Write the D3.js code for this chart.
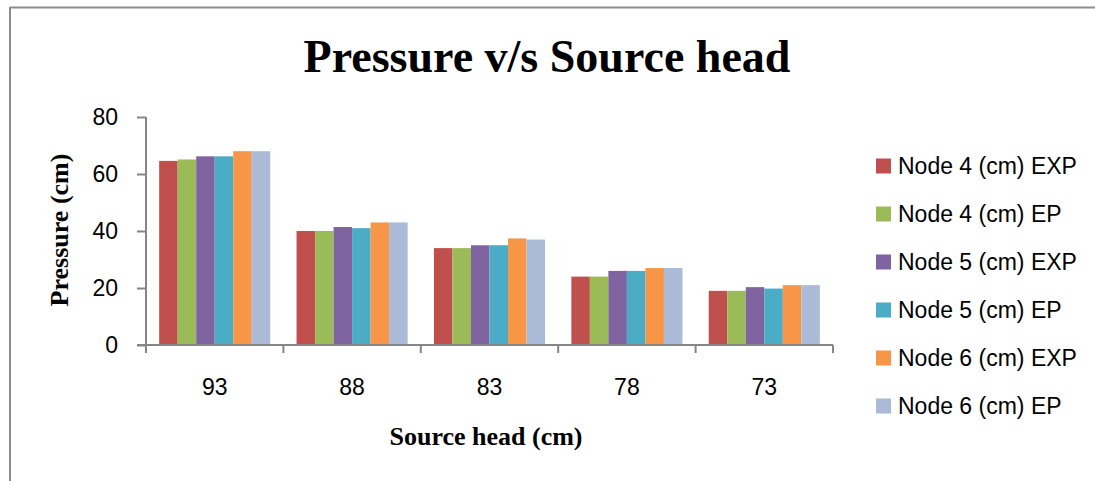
<!DOCTYPE html>
<html>
<head>
<meta charset="utf-8">
<script src="https://cdn.jsdelivr.net/npm/d3@7"></script>
<style>
  body { margin: 0; background: #fff; }
  svg { display: block; }
</style>
</head>
<body>
<div id="chart"></div>
<script>
// Chart data
var categories = ["93", "88", "83", "78", "73"];
var seriesNames = ["Node 4 (cm) EXP", "Node 4 (cm) EP", "Node 5 (cm) EXP",
  "Node 5 (cm) EP", "Node 6 (cm) EXP", "Node 6 (cm) EP"];
var node4Exp = [64.6, 40, 34, 24, 19];
var node4Ep = [65.1, 40, 34, 24, 19];
var node5Exp = [66.2, 41.4, 35, 26, 20.3];
var node5Ep = [66.2, 41, 35, 26, 19.8];
var node6Exp = [68, 43, 37.4, 27, 21];
var node6Ep = [68, 43, 37, 27, 21];
var yTicks = [0, 20, 40, 60, 80];

var seriesValues = [node4Exp, node4Ep, node5Exp, node5Ep, node6Exp, node6Ep];
var colors = ["#C0504D", "#9BBB59", "#8064A2", "#4BACC6", "#F79646", "#AABAD7"];

var svgWidth = 1095;
var svgHeight = 481;
var margin = {top: 117, left: 146, bottom: 136, right: 262};
var axisColor = "#868686";
var sansFont = "'Liberation Sans', Arial, sans-serif";
var serifFont = "'Liberation Serif', 'Times New Roman', serif";

var svg = d3.select("#chart")
  .append("svg")
  .attr("width", svgWidth)
  .attr("height", svgHeight);

// Outer frame (only top and left edges visible in the crop)
svg.append("line")
  .attr("x1", 10).attr("y1", 7.5).attr("x2", svgWidth).attr("y2", 7.5)
  .attr("stroke", "#8c8c8c").attr("stroke-width", 2);
svg.append("line")
  .attr("x1", 10).attr("y1", 7).attr("x2", 10).attr("y2", svgHeight)
  .attr("stroke", "#8c8c8c").attr("stroke-width", 2);

// Scales
var x0 = d3.scaleBand()
  .domain(categories)
  .range([margin.left, svgWidth - margin.right])
  .padding(0);

var x1 = d3.scaleBand()
  .domain(seriesNames)
  .range([0, x0.bandwidth()])
  .paddingInner(0)
  .paddingOuter(0.71);

var y = d3.scaleLinear()
  .domain([0, 80])
  .range([svgHeight - margin.bottom, margin.top]);

// Title
svg.append("text")
  .attr("x", 547)
  .attr("y", 72)
  .attr("text-anchor", "middle")
  .style("font-family", serifFont)
  .style("font-weight", "bold")
  .style("font-size", "46px")
  .text("Pressure v/s Source head");

// Bars
var groups = svg.selectAll(".group")
  .data(categories)
  .enter()
  .append("g")
  .attr("class", "group")
  .attr("transform", d => `translate(${x0(d)}, 0)`);

groups.selectAll("rect")
  .data((d, i) => seriesNames.map((s, j) => ({series: s, value: seriesValues[j][i], color: colors[j]})))
  .enter()
  .append("rect")
  .attr("x", d => x1(d.series))
  .attr("y", d => y(d.value))
  .attr("width", x1.bandwidth())
  .attr("height", d => y(0) - y(d.value))
  .attr("fill", d => d.color);

// Y axis
var leftAxis = d3.axisLeft(y)
  .tickValues(yTicks)
  .tickSize(9)
  .tickPadding(19);

var yAxis = svg.append("g")
  .attr("transform", `translate(${margin.left}, 0)`)
  .call(leftAxis);

// X axis: ticks at category boundaries
var bottomAxis = d3.axisBottom(x0)
  .tickSize(0)
  .tickPadding(34);

var xAxis = svg.append("g")
  .attr("transform", `translate(0, ${y(0)})`)
  .call(bottomAxis);

var boundaries = categories.map(c => x0(c)).concat([x0(categories[categories.length - 1]) + x0.bandwidth()]);
xAxis.selectAll(".boundary")
  .data(boundaries)
  .enter()
  .append("line")
  .attr("class", "boundary")
  .attr("x1", d => d).attr("x2", d => d)
  .attr("y1", 0).attr("y2", 8);

[xAxis, yAxis].forEach(function(ax) {
  ax.select(".domain").attr("stroke", axisColor).attr("stroke-width", 2);
  ax.selectAll("line").attr("stroke", axisColor).attr("stroke-width", 2);
  ax.selectAll("text")
    .attr("fill", "#000")
    .style("font-family", sansFont)
    .style("font-size", "23px");
});
yAxis.select(".domain").attr("d", `M0,${y(80)}V${y(0)}`);
xAxis.select(".domain").attr("d", `M${margin.left - 9},0H${svgWidth - margin.right}`);

// Axis titles
svg.append("text")
  .attr("x", 486)
  .attr("y", 445)
  .attr("text-anchor", "middle")
  .style("font-family", serifFont)
  .style("font-weight", "bold")
  .style("font-size", "26px")
  .text("Source head (cm)");

svg.append("text")
  .attr("transform", "translate(68, 230) rotate(-90)")
  .attr("text-anchor", "middle")
  .style("font-family", serifFont)
  .style("font-weight", "bold")
  .style("font-size", "26px")
  .text("Pressure (cm)");

// Legend
var legend = svg.selectAll(".legend")
  .data(seriesNames)
  .enter()
  .append("g")
  .attr("class", "legend")
  .attr("transform", (d, i) => `translate(876, ${166 + i * 48})`);

legend.append("rect")
  .attr("x", 0)
  .attr("y", -7.5)
  .attr("width", 15)
  .attr("height", 15)
  .attr("fill", (d, i) => colors[i]);

legend.append("text")
  .attr("x", 22)
  .attr("y", 0)
  .attr("dy", "0.35em")
  .style("font-family", sansFont)
  .style("font-size", "23px")
  .text(d => d);
</script>
</body>
</html>
